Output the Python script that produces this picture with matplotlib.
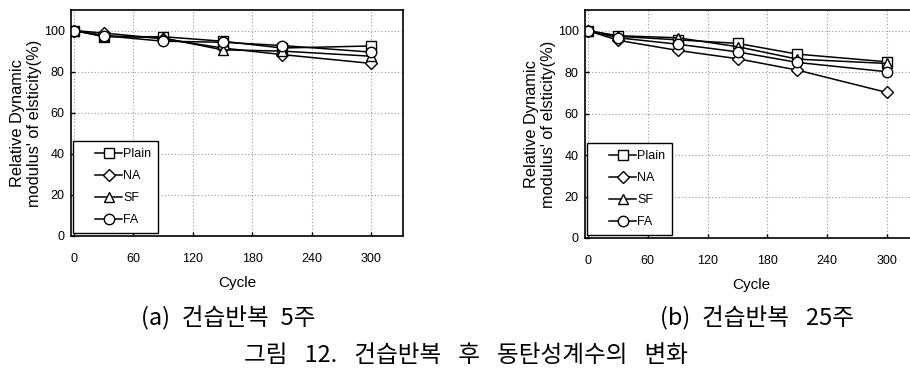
import matplotlib
matplotlib.use('Agg')
import matplotlib.pyplot as plt
from matplotlib.lines import Line2D
from matplotlib.legend_handler import HandlerLine2D

'''
Relative dynamic modulus of elasticity after wet-dry cycling,
two panels (5 weeks / 25 weeks) with Korean captions.
'''

cycles = [0, 30, 90, 150, 210, 300]
series_names = ['Plain', 'NA', 'SF', 'FA']
markers = ['s', 'D', '^', 'o']

# (a) 5 weeks
plain_5 = [100, 97.0, 97.0, 94.8, 91.5, 92.5]
na_5 = [100, 98.8, 96.0, 91.5, 88.3, 84.0]
sf_5 = [100, 97.5, 96.4, 90.6, 90.0, 87.5]
fa_5 = [100, 97.5, 94.8, 94.3, 92.7, 89.5]

# (b) 25 weeks
plain_25 = [100, 97.3, 95.6, 93.9, 88.7, 85.0]
na_25 = [100, 95.4, 90.5, 86.5, 81.0, 70.2]
sf_25 = [100, 97.6, 96.6, 92.3, 86.3, 84.2]
fa_25 = [100, 96.6, 93.5, 89.8, 84.7, 80.2]

x_ticks = [0, 60, 120, 180, 240, 300]
y_ticks = [0, 20, 40, 60, 80, 100]

# wider spaces stand in for the word gaps of the original serif font
gap = '\u2002 '
caption_a = '(a)\u2002건습반복\u20025주'
caption_b = '(b)\u2002건습반복' + gap + '25주'
caption_fig = gap.join(['그림', '12.', '건습반복', '후', '동탄성계수의', '변화'])

latin = ['Liberation Sans', 'DejaVu Sans']
korean = ['Noto Sans CJK KR', 'DejaVu Sans']


def draw_panel(ax, data, xmax):
    for vals, name, mk in zip(data, series_names, markers):
        ms = 6.5 if mk == 'D' else 7.5
        ax.plot(cycles, vals, color='black', linewidth=1.1, marker=mk,
                markersize=ms, markerfacecolor='white',
                markeredgecolor='black', markeredgewidth=1.0, label=name)
    ax.set_xlim(-3, xmax)
    ax.set_ylim(0, 110)
    ax.set_xticks(x_ticks)
    ax.set_yticks(y_ticks)
    ax.grid(True, color='#999999', linestyle=(0, (1, 2)), linewidth=0.8)
    ax.tick_params(direction='in', length=3, width=1, labelsize=9)
    ax.tick_params(axis='x', pad=12)
    ax.tick_params(axis='y', pad=4.5)
    for lab in ax.get_xticklabels() + ax.get_yticklabels():
        lab.set_family(latin)
    for s in ax.spines.values():
        s.set_linewidth(1.2)
    ax.set_xlabel('Cycle', family=latin, fontsize=11, labelpad=8)
    ax.set_ylabel("Relative Dynamic\nmodulus' of elsticity(%)", family=latin,
                  fontsize=11.8, linespacing=1.2, labelpad=1)
    leg = ax.legend(loc='lower left', bbox_to_anchor=(0.006, 0.013),
                    borderaxespad=0, fancybox=False, edgecolor='black',
                    framealpha=1, prop={'family': latin, 'size': 9},
                    handlelength=3.4, handletextpad=0.05, labelspacing=0.8,
                    borderpad=0.55,
                    handler_map={Line2D: HandlerLine2D(xpad=1.2)})
    leg.get_frame().set_linewidth(1.0)


fig = plt.figure(figsize=(9.1, 3.72), dpi=100)
ax1 = fig.add_axes([71 / 910, 1 - 236 / 372, 332 / 910, 226 / 372])
ax2 = fig.add_axes([585 / 910, 1 - 238 / 372, 332 / 910, 228 / 372])

draw_panel(ax1, [plain_5, na_5, sf_5, fa_5], 332)
draw_panel(ax2, [plain_25, na_25, sf_25, fa_25], 330)

fig.text(228 / 910, 1 - 318 / 372, caption_a, family=korean, fontsize=17,
         ha='center', va='center')
fig.text(757 / 910, 1 - 318 / 372, caption_b, family=korean, fontsize=17,
         ha='center', va='center')
fig.text(466 / 910, 1 - 356 / 372, caption_fig, family=korean, fontsize=17,
         ha='center', va='center')

fig.savefig('out.png', dpi=100)
